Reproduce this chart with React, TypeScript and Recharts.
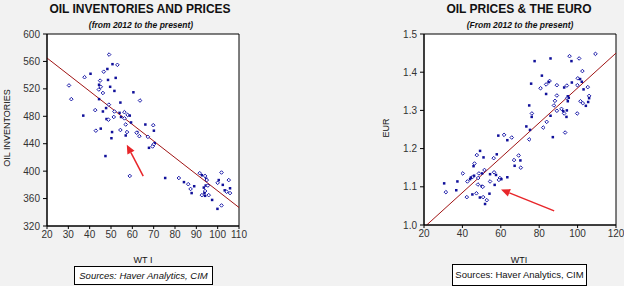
import { ScatterChart, Scatter, XAxis, YAxis, CartesianGrid, ReferenceLine, ReferenceArea } from 'recharts';

document.body.style.margin = '0';

// left panel: WTI vs oil inventories
const invWti = [
  49.1, 50.7, 53, 48.3, 46.6, 40.4, 37.6, 52.2, 44.9, 48.6, 30.3, 44.4, 45.2, 49.6, 44.3, 51.6, 46.2, 60.5,
  31.4, 44.4, 63.6, 54.4, 49, 47.7, 42.6, 46.2, 51.6, 54, 56.3, 37, 57.8, 58.8, 51.3, 54.7, 56.3, 47.9, 48.8,
  59.4, 56.9, 66.1, 69.8, 45.2, 54.4, 70.1, 42.9, 50.5, 57.5, 62.3, 62, 56.9, 63.3, 50.2, 67.3,
  70.5, 70, 67.8, 69.5, 47.4, 58.8, 75.4, 81.8, 84.2, 86.2, 89, 87.3, 87.8, 91.6, 92.6, 94.1, 94.6, 94.9,
  94.4, 95.4, 93.5, 94.1, 93.8, 92.6, 94.1, 95.8, 97.4, 101.8, 100.5, 100, 102.4, 105.2, 103.3, 104.2,
  105.8, 105.8, 99.9, 101.8,
];
const invLevel = [
  570, 556, 555, 549, 545, 542, 537, 536, 532, 533, 525, 526, 523, 523, 519, 517, 514, 515,
  505, 505, 503, 500, 497, 492, 489, 487, 487, 485, 486, 481, 482, 481, 479, 479, 477, 476, 475,
  471, 468, 468, 467, 462, 460, 459, 459, 457, 457, 457, 456, 452, 451, 448, 450,
  441, 439, 434, 436, 422, 393, 390, 390, 384, 381, 378, 374, 368, 397, 394, 393, 389, 387,
  379, 379, 376, 371, 368, 365, 364, 365, 358, 398, 387, 383, 380, 387, 372, 370,
  375, 368, 345, 350,
];

// right panel: WTI vs EUR
const eurWti = [
  109.3, 85.9, 95.8, 96.8, 100.8, 77.6, 102.5, 81.4, 85.4, 84.9, 83.6, 75.8, 89.2, 97, 100.1, 101.3, 99.9,
  102.2, 94.4, 93, 105.3, 103.1, 80.7, 83.6, 89.2, 94.9, 94.6, 95.4, 106, 106, 88.2, 94.9, 101.5, 105.5,
  102.7, 104.3, 87.7, 74.8, 91.6, 92.5, 89.2, 94.4, 93, 94.2, 76.2, 76.1, 99.8, 85.9, 83.9, 73.3, 82.1,
  75.2, 93.5, 58.7, 61.7, 63.4, 65.7, 87.1, 74.8,
  49.2, 47.5, 51, 56.3, 57.9, 46.3, 45.8, 40.2, 50.3, 51.5, 46.1, 48.6, 54.4, 56.5, 57.5, 45.1, 44.4,
  48.2, 44, 42.6, 37.4, 59.5, 60.3, 59, 63.4, 54.4, 56.8, 48.1, 50, 50.6, 30.5, 31.4, 36.8, 47.3, 45.2,
  42.3, 49.1, 50.8, 54.1, 52.7, 51.8, 66.9, 67.2, 69.3, 70.2, 70.4,
];
const eurRate = [
  1.448, 1.436, 1.442, 1.429, 1.436, 1.429, 1.403, 1.391, 1.377, 1.374, 1.368, 1.37, 1.366, 1.373, 1.384,
  1.382, 1.366, 1.375, 1.365, 1.36, 1.361, 1.355, 1.358, 1.343, 1.339, 1.337, 1.332, 1.333, 1.338, 1.332,
  1.325, 1.324, 1.324, 1.322, 1.319, 1.312, 1.313, 1.313, 1.304, 1.298, 1.299, 1.3, 1.292, 1.283, 1.292,
  1.283, 1.292, 1.286, 1.27, 1.258, 1.255, 1.249, 1.242, 1.234, 1.236, 1.222, 1.229, 1.23, 1.224,
  1.194, 1.183, 1.177, 1.175, 1.185, 1.161, 1.154, 1.135, 1.135, 1.144, 1.129, 1.135, 1.133, 1.138, 1.131,
  1.125, 1.124, 1.123, 1.12, 1.114, 1.114, 1.123, 1.12, 1.118, 1.125, 1.114, 1.105, 1.106, 1.102, 1.1,
  1.109, 1.086, 1.091, 1.083, 1.08, 1.073, 1.072, 1.073, 1.082, 1.065, 1.055, 1.17, 1.155, 1.182, 1.169, 1.15,
];

const invTicksX = [20, 30, 40, 50, 60, 70, 80, 90, 100, 110];
const invTicksY = [320, 360, 400, 440, 480, 520, 560, 600];
const eurTicksX = [20, 40, 60, 80, 100, 120];
const eurTicksY = [1.0, 1.1, 1.2, 1.3, 1.4, 1.5];

// fitted lines and the red arrows (in data units)
const invFit = [{ x: 20, y: 565 }, { x: 110, y: 347 }];
const eurFit = [{ x: 21.4, y: 1.0 }, { x: 120, y: 1.45 }];
const invArrow = [{ x: 65.1, y: 392.6 }, { x: 57.4, y: 438.6 }];
const eurArrow = [{ x: 87.8, y: 1.037 }, { x: 60.1, y: 1.093 }];

const invPoints = invWti.map((x, i) => ({ x, y: invLevel[i], k: i % 2 }));
const eurPoints = eurWti.map((x, i) => ({ x, y: eurRate[i], k: i % 2 }));

const FONT = '"Liberation Sans", Arial, sans-serif';
const tick = { fontSize: 10, fill: '#333', fontFamily: FONT };

const Dot = (props: any) => {
  const { cx, cy, payload } = props;
  if (payload && payload.k) {
    return <rect x={cx - 1.25} y={cy - 1.25} width={2.5} height={2.5} fill="#10109a" />;
  }
  return (
    <path
      d={`M${cx},${cy - 1.8}L${cx + 1.8},${cy}L${cx},${cy + 1.8}L${cx - 1.8},${cy}Z`}
      fill="#fff"
      stroke="#1a1aa8"
      strokeWidth={1}
    />
  );
};

const Arrow = (props: any) => {
  const { x1, y1, x2, y2 } = props;
  const a = Math.atan2(y2 - y1, x2 - x1);
  const len = 9;
  const w = 4;
  const bx = x2 - len * Math.cos(a);
  const by = y2 - len * Math.sin(a);
  const px = -Math.sin(a) * w;
  const py = Math.cos(a) * w;
  return (
    <g>
      <line x1={x1} y1={y1} x2={bx} y2={by} stroke="#e8262a" strokeWidth={1.5} />
      <polygon points={`${x2},${y2} ${bx + px},${by + py} ${bx - px},${by - py}`} fill="#e8262a" />
    </g>
  );
};

const txt = (style: any, children: any) => (
  <div style={{ position: 'absolute', fontFamily: FONT, color: '#111', whiteSpace: 'nowrap', ...style }}>{children}</div>
);

export default function App() {
  return (
    <div style={{ position: 'relative', width: 624, height: 286, background: '#f2f2f2', overflow: 'hidden' }}>
      <div style={{ position: 'absolute', left: 0, top: 0 }}>
        <ScatterChart width={312} height={286} margin={{ top: 34, right: 73, bottom: 30, left: 0 }}>
          <CartesianGrid fill="#fff" horizontal={false} vertical={false} />
          <XAxis
            type="number"
            dataKey="x"
            domain={[20, 110]}
            ticks={invTicksX}
            interval={0}
            height={30}
            tick={tick}
            tickSize={3}
            stroke="#000"
          />
          <YAxis
            type="number"
            dataKey="y"
            domain={[320, 600]}
            ticks={invTicksY}
            interval={0}
            width={47}
            tick={tick}
            tickSize={4}
            tickMargin={3}
            stroke="#000"
          />
          <ReferenceArea x1={20} x2={110} y1={320} y2={600} fill="none" stroke="#000" strokeWidth={1} />
          <ReferenceLine segment={invFit} stroke="#a01414" strokeWidth={1} />
          <Scatter data={invPoints} shape={Dot} isAnimationActive={false} />
          <ReferenceLine segment={invArrow} shape={Arrow} />
        </ScatterChart>
      </div>
      <div style={{ position: 'absolute', left: 312, top: 0 }}>
        <ScatterChart width={312} height={286} margin={{ top: 34, right: 8, bottom: 31, left: 0 }}>
          <CartesianGrid fill="#fff" horizontal={false} vertical={false} />
          <XAxis
            type="number"
            dataKey="x"
            domain={[20, 120]}
            ticks={eurTicksX}
            interval={0}
            height={30}
            tick={tick}
            tickSize={3}
            stroke="#000"
          />
          <YAxis
            type="number"
            dataKey="y"
            domain={[1.0, 1.5]}
            ticks={eurTicksY}
            interval={0}
            width={112}
            tick={tick}
            tickSize={4}
            tickMargin={3}
            tickFormatter={(v: number) => v.toFixed(1)}
            stroke="#000"
          />
          <ReferenceArea x1={20} x2={120} y1={1.0} y2={1.5} fill="none" stroke="#000" strokeWidth={1} />
          <ReferenceLine segment={eurFit} stroke="#a01414" strokeWidth={1} />
          <Scatter data={eurPoints} shape={Dot} isAnimationActive={false} />
          <ReferenceLine segment={eurArrow} shape={Arrow} />
        </ScatterChart>
      </div>

      {txt({ left: 0, width: 280, top: 3, textAlign: 'center', fontSize: 12, fontWeight: 'bold', lineHeight: '12px' }, 'OIL INVENTORIES AND PRICES')}
      {txt({ left: 0, width: 282, top: 20, textAlign: 'center', fontSize: 8.5, fontStyle: 'italic', fontWeight: 'bold', lineHeight: '10px' }, '(from 2012 to the present)')}
      {txt({ left: 419, width: 200, top: 3, textAlign: 'center', fontSize: 12, fontWeight: 'bold', lineHeight: '12px' }, 'OIL PRICES & THE EURO')}
      {txt({ left: 420, width: 200, top: 20, textAlign: 'center', fontSize: 8.5, fontStyle: 'italic', fontWeight: 'bold', lineHeight: '10px' }, '(From 2012 to the present)')}

      {txt({ left: 7, top: 128, fontSize: 9, lineHeight: '9px', transform: 'translate(-50%, -50%) rotate(-90deg)' }, 'OIL INVENTORIES')}
      {txt({ left: 386, top: 128, fontSize: 9, lineHeight: '9px', transform: 'translate(-50%, -50%) rotate(-90deg)' }, 'EUR')}

      {txt({ left: 93, width: 100, top: 255, textAlign: 'center', fontSize: 9, lineHeight: '10px' }, 'WT I')}
      {txt({ left: 469, width: 100, top: 255, textAlign: 'center', fontSize: 9, lineHeight: '10px' }, 'WTI')}

      {txt({ left: 74, top: 266, width: 137, height: 17, border: '1px solid #000', background: '#fff', textAlign: 'center', fontSize: 9.5, fontStyle: 'italic', lineHeight: '17px' }, 'Sources: Haver Analytics, CIM')}
      {txt({ left: 452, top: 264, width: 133, height: 20, border: '1px solid #000', background: '#fff', textAlign: 'center', fontSize: 9.5, lineHeight: '20px' }, 'Sources: Haver Analytics, CIM')}
    </div>
  );
}
